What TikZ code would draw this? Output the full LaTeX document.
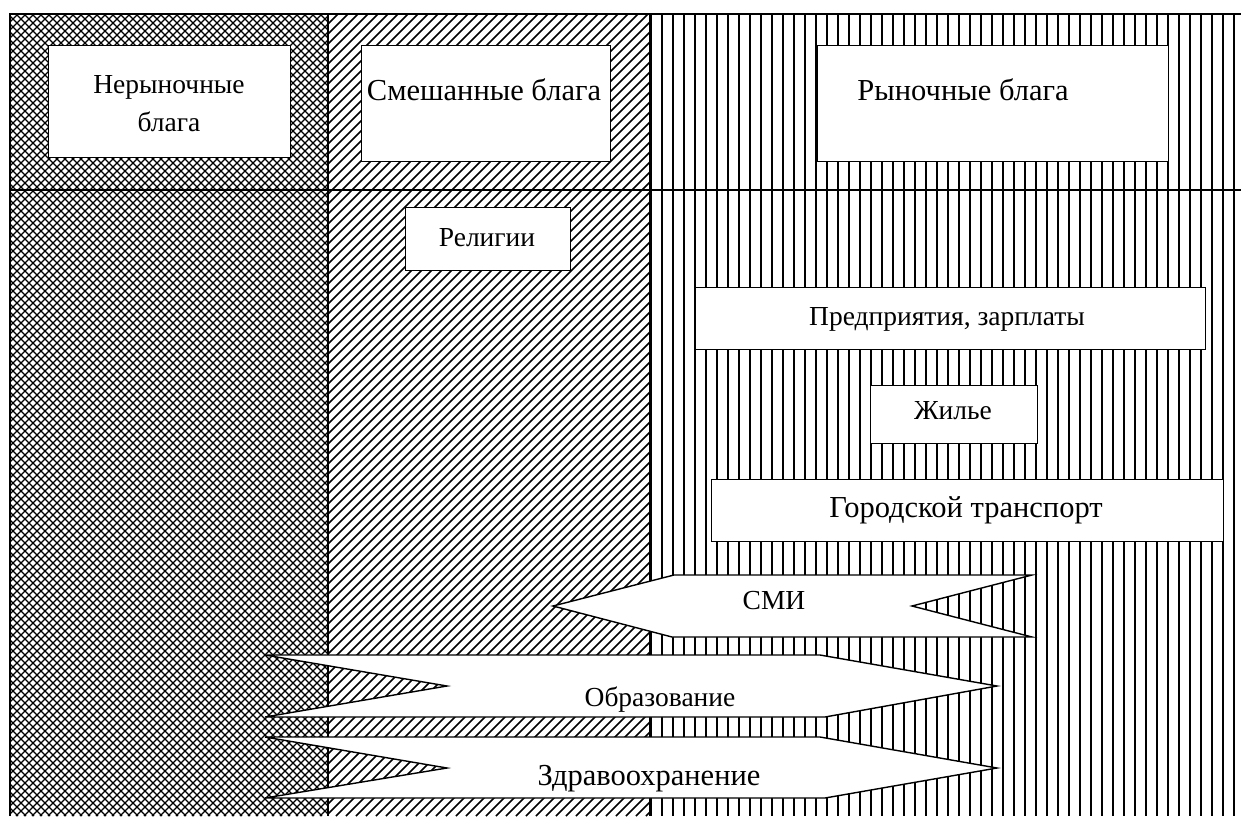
\documentclass[tikz,border=0pt]{standalone}
\usepackage{fontspec}
\setmainfont{Liberation Serif}
\begin{document}
\begin{tikzpicture}[x=1pt,y=-1pt,
  box/.style={draw, fill=white, line width=1.4pt, inner sep=0pt, anchor=north west},
  lbl/.style={font=\fontsize{27.5}{38}\selectfont, align=center, inner sep=0pt, anchor=base},
  big/.style={font=\fontsize{30.5}{38}\selectfont},
  hatchv/.style={line width=2pt},
  hatchd/.style={line width=1.5pt},
  hatchc/.style={line width=1.1pt},
  frameline/.style={line width=1.6pt},
  flow/.style={draw, fill=white, line width=1.4pt, line join=miter}]
\useasboundingbox (0,0) rectangle (1241,816);
\fill[white] (0,0) rectangle (1241,816);
% cross-hatched column: non-market goods
\begin{scope}
\clip (10,14) rectangle (328,816);
\foreach \c in {-806,-798,...,318} \draw[hatchc] (\c+14,14) -- (\c+816,816);
\foreach \d in {24,32,...,1144} \draw[hatchc] (\d-14,14) -- (\d-816,816);
\end{scope}
% diagonal column: mixed goods
\begin{scope}
\clip (328,14) rectangle (650,816);
\foreach \d in {342,352,...,1470} \draw[hatchd] (\d-14,14) -- (\d-816,816);
\end{scope}
% vertical column: market goods
\begin{scope}
\clip (650,14) rectangle (1241,816);
\foreach \x in {651,662,...,1241} \draw[hatchv] (\x,14) -- (\x,816);
\end{scope}
% frame and dividers
\coordinate (tl) at (10,14);
\coordinate (tr) at (1241,14);
\coordinate (bl) at (10,816);
\coordinate (ml) at (10,190);
\coordinate (mr) at (1241,190);
\coordinate (c1t) at (328,14);
\coordinate (c1b) at (328,816);
\coordinate (c2t) at (650,14);
\coordinate (c2b) at (650,816);
\draw[frameline] (bl) -- (tl) -- (tr);
\draw[frameline] (ml) -- (mr);
\draw[frameline] (c1t) -- (c1b);
\draw[frameline] (c2t) -- (c2b);
% header boxes
\node[box, minimum width=242pt, minimum height=112pt] (hnon) at (48,45) {};
\node[lbl, anchor=center] (tnon) at (169,104) {Нерыночные\\блага};
\node[box, minimum width=249pt, minimum height=116pt] (hmix) at (361,45) {};
\node[lbl, big] (tmix) at (484,100) {Смешанные блага};
\node[box, minimum width=351pt, minimum height=116pt] (hmar) at (817,45) {};
\node[lbl, big] (tmar) at (963,100) {Рыночные блага};
% items
\node[box, minimum width=165pt, minimum height=63pt] (brel) at (405,207) {};
\node[lbl] (trel) at (487,246) {Религии};
\node[box, minimum width=510pt, minimum height=62pt] (bent) at (695,287) {};
\node[lbl] (tent) at (947,325) {Предприятия, зарплаты};
\node[box, minimum width=167pt, minimum height=58pt] (bhou) at (870,385) {};
\node[lbl] (thou) at (953,419) {Жилье};
\node[box, minimum width=512pt, minimum height=62pt] (btra) at (711,479) {};
\node[lbl, big] (ttra) at (966,517) {Городской транспорт};
% flow arrows
\draw[flow] (553,606) -- (674,575) -- (1032,575) -- (912,606) -- (1032,637) -- (672,637) -- cycle;
\node[lbl] (tsmi) at (774,609) {СМИ};
\draw[flow] (265,655) -- (820,655) -- (997,686) -- (825,717) -- (265,717) -- (447,686) -- cycle;
\node[lbl] (tedu) at (660,706) {Образование};
\draw[flow] (265,737) -- (820,737) -- (997,768) -- (825,798) -- (265,798) -- (447,768) -- cycle;
\node[lbl, big] (thea) at (649,785) {Здравоохранение};
\end{tikzpicture}
\end{document}
